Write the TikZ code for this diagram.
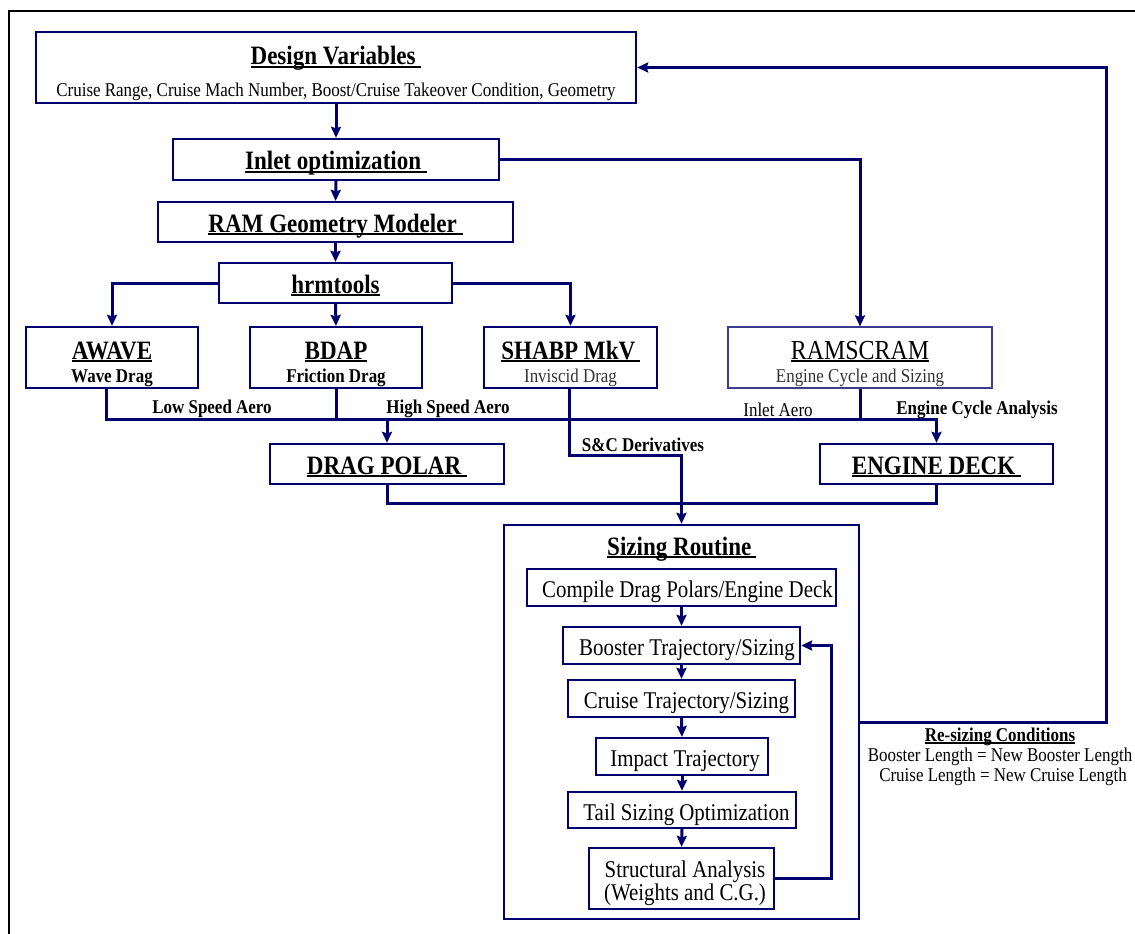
\documentclass[tikz,border=0pt]{standalone}
\usepackage{fontspec}
\setmainfont{Liberation Serif}[FakeStretch=0.87]
\usetikzlibrary{arrows.meta,calc}
\definecolor{navy}{RGB}{0,0,110}
\definecolor{rsblue}{RGB}{60,60,140}
\definecolor{sub}{RGB}{50,50,50}
\newcommand\ulx[1]{\setbox0\hbox{#1}\rlap{\rule[-0.11em]{\wd0}{0.075em}}\box0}
\newcommand\fT{\fontsize{26.5}{29}\selectfont\bfseries}
\newcommand\fL{\fontsize{19.5}{22}\selectfont}
\newcommand\fB{\fontsize{24}{26}\selectfont}
\tikzset{
  bx/.style={draw=navy, line width=2.3, inner sep=0pt, align=center},
  one/.style={text height=20.5pt, text depth=0pt},
  conn/.style={draw=navy, line width=3},
  arr/.style={conn, -{Stealth[length=11pt,width=10pt,inset=1.5pt]}},
  lbl/.style={inner sep=0pt, font=\fL},
  txt/.style={inner sep=0pt, anchor=base},
}
\begin{document}
\begin{tikzpicture}[x=1pt,y=-1pt]
\useasboundingbox (0,0) rectangle (1135,934);
\clip (0,0) rectangle (1135,934);
\draw[black, line width=2.2] (9,945) -- (9,11) -- (1145,11);

% top chain
\node[bx, minimum width=600, minimum height=71] (dv) at (336,67.5) {};
\node[txt] (dvt) at (336,65) {\fT\ulx{Design Variables\ }};
\node[txt] (dvs) at (336,96) {\fL Cruise Range, Cruise Mach Number, Boost/Cruise Takeover Condition, Geometry};
\node[bx, one, minimum width=326, minimum height=41] (in) at (336,159.5) {\fT\ulx{Inlet optimization\ }};
\node[bx, one, minimum width=355, minimum height=40] (ram) at (335.5,222) {\fT\ulx{RAM Geometry Modeler\ }};
\node[bx, one, minimum width=233, minimum height=40] (hrm) at (335.5,283) {\fT\ulx{hrmtools}};

% tools row
\node[bx, minimum width=172, minimum height=61] (aw) at (112,357.5) {};
\node[txt] (awt) at (112,359) {\fT\ulx{AWAVE}};
\node[txt] (aws) at (112,382) {\fL\bfseries Wave Drag};
\node[bx, minimum width=172, minimum height=61] (bd) at (336,357.5) {};
\node[txt] (bdt) at (336,359) {\fT\ulx{BDAP}};
\node[txt] (bds) at (336,382) {\fL\bfseries Friction Drag};
\node[bx, minimum width=173, minimum height=61] (sh) at (570.5,357.5) {};
\node[txt] (sht) at (570.5,359) {\fT\ulx{SHABP MkV\,}};
\node[txt, text=sub] (shs) at (570.5,382) {\fL Inviscid Drag};
\node[bx, draw=rsblue, line width=1.2, minimum width=264, minimum height=61] (rs) at (860,357.5) {};
\node[txt] (rst) at (860,359) {\fontsize{27.5}{30}\selectfont\ulx{RAMSCRAM}};
\node[txt, text=sub] (rss) at (860,382) {\fL Engine Cycle and Sizing};

% polar / deck
\node[bx, one, minimum width=234, minimum height=40] (dp) at (387,464) {\fT\ulx{DRAG POLAR\ }};
\node[bx, one, minimum width=233, minimum height=40] (ed) at (936.5,464) {\fT\ulx{ENGINE DECK\ }};

% sizing routine
\node[bx, minimum width=355, minimum height=394] (sz) at (681.5,722) {};
\node[txt] (szt) at (681.5,555) {\fT\ulx{Sizing Routine\,}};
\node[bx, one, font=\fB, minimum width=309, minimum height=37] (cp) at (681.5,587.5) {\hspace*{12pt}Compile Drag Polars/Engine Deck};
\node[bx, one, font=\fB, minimum width=237, minimum height=37] (bo) at (681.5,645.5) {\hspace*{11pt}Booster Trajectory/Sizing};
\node[bx, one, font=\fB, minimum width=227, minimum height=37] (cr) at (681.5,698.5) {\hspace*{10pt}Cruise Trajectory/Sizing};
\node[bx, one, font=\fB, minimum width=172, minimum height=37] (im) at (682,756.5) {\hspace*{6pt}Impact Trajectory};
\node[bx, one, font=\fB, minimum width=228, minimum height=36] (ta) at (682,810) {\hspace*{9pt}Tail Sizing Optimization};
\node[bx, minimum width=185, minimum height=61] (st) at (681.5,878.5) {};
\node[txt, font=\fB] (st1) at (685,877) {Structural Analysis};
\node[txt, font=\fB] (st2) at (685,900) {(Weights and C.G.)};

% labels
\node[lbl, font=\fL\bfseries] (l1) at (212,409) {Low Speed Aero};
\node[lbl, font=\fL\bfseries] (l2) at (448,409) {High Speed Aero};
\node[lbl] (l3) at (778,410) {Inlet Aero};
\node[lbl, font=\fL\bfseries] (l4) at (977,410) {Engine Cycle Analysis};
\node[lbl, font=\fL\bfseries] (l5) at (643,445) {S\&C Derivatives};
\node[lbl, font=\fL\bfseries] (l6) at (1000,737) {\ulx{Re-sizing Conditions}};
\node[lbl] (l7) at (1000,757) {Booster Length = New Booster Length};
\node[lbl] (l8) at (1003,777) {Cruise Length = New Cruise Length};

% connectors
\coordinate (bus) at (106,419);
\coordinate (sc) at (569,455);
\coordinate (b2) at (0,503);
\coordinate (fb) at (831,0);
\coordinate (ob) at (1106,722);
\draw[arr] (dv.south) -- (in.north);
\draw[arr] (in.east) -| (rs.north);
\draw[arr] (in.south) -- (ram.north);
\draw[arr] (ram.south) -- (hrm.north);
\draw[arr] (hrm.west) -| (aw.north);
\draw[arr] (hrm.south) -- (bd.north);
\draw[arr] (hrm.east) -| (sh.north);
\draw[conn] (aw.south -| bus) -- (bus) -- (rs.south |- bus) -- (rs.south);
\draw[conn] (bd.south) -- (bd.south |- bus);
\draw[arr] (dp.north |- bus) -- (dp.north);
\draw[arr] (rs.south |- bus) -| (ed.north);
\draw[arr] (sh.south -| sc) -- (sc) -| (sz.north);
\draw[conn] (dp.south) -- (dp.south |- b2) -- (ed.south |- b2) -- (ed.south);
\draw[arr] (cp.south) -- (bo.north);
\draw[arr] (bo.south) -- (cr.north);
\draw[arr] (cr.south) -- (im.north);
\draw[arr] (im.south) -- (ta.north);
\draw[arr] (ta.south) -- (st.north);
\draw[arr] (st.east) -- (st.east -| fb) -- (bo.east -| fb) -- (bo.east);
\draw[arr] (sz.east |- ob) -- (ob) |- (dv.east);
\end{tikzpicture}
\end{document}
